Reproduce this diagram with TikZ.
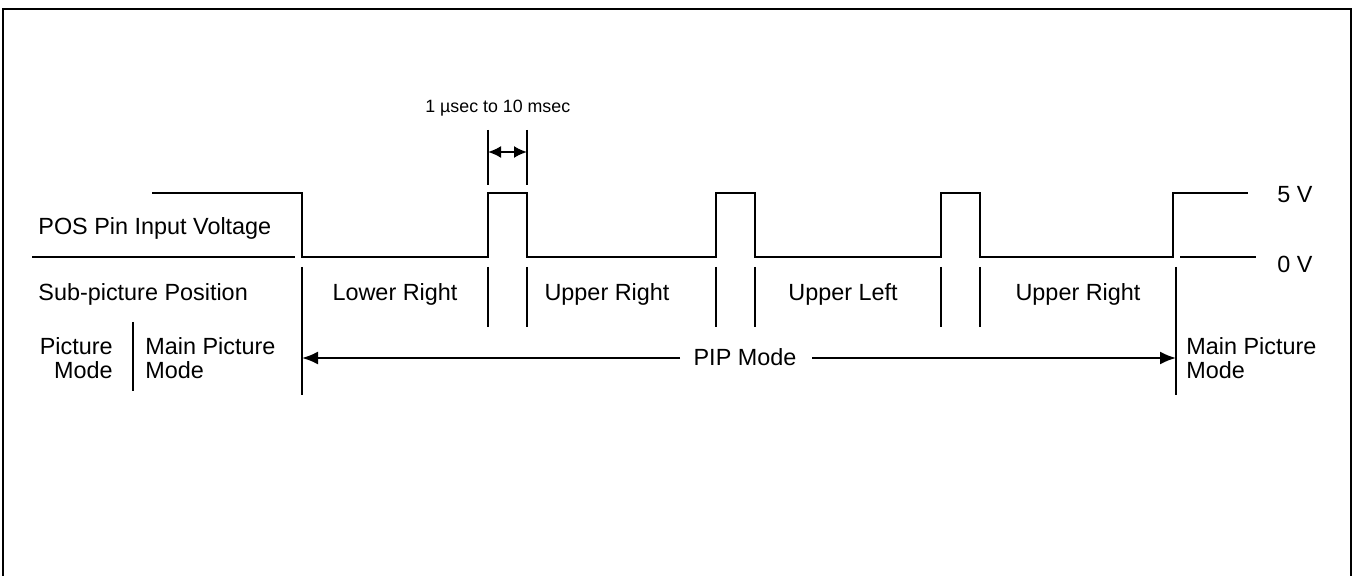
\documentclass[tikz,border=0pt]{standalone}
\usepackage{fontspec}
\setmainfont{Liberation Sans}
\usetikzlibrary{arrows.meta}
\begin{document}
\begin{tikzpicture}[x=0.5pt,y=-0.5pt,
  wire/.style={line width=1pt},
  frameline/.style={line width=1.3pt},
  lbl/.style={inner sep=0pt,font=\fontsize{11.7}{14}\selectfont},
  small/.style={inner sep=0pt,font=\fontsize{8.9}{11}\selectfont},
  tip/.style={-{Latex[length=8pt,width=6.5pt]}},
  line cap=butt]
\useasboundingbox (0,0) rectangle (1352,576);
% frame
\draw[frameline] (3,576) -- (3,9) -- (1351,9) -- (1351,576);
% signal
\draw[wire] (152,193) -- (302,193) -- (302,257) -- (488,257) -- (488,193) -- (527,193) -- (527,257)
  -- (716,257) -- (716,193) -- (755,193) -- (755,257)
  -- (941,257) -- (941,193) -- (980,193) -- (980,257)
  -- (1173,257) -- (1173,193) -- (1248,193);
\draw[wire] (32,257) -- (295,257);
\draw[wire] (1180,257) -- (1256,257);
% markers below 0 V
\coordinate (L0t) at (302,267); \coordinate (L0b) at (302,395);
\coordinate (R0t) at (1176,267); \coordinate (R0b) at (1176,395);
\draw[wire] (L0t) -- (L0b);
\draw[wire] (R0t) -- (R0b);
\foreach \xx in {488,527,716,755,941,980}
  \draw[wire] (\xx,267) -- (\xx,327);
% dimension
\coordinate (d1) at (488,152); \coordinate (d2) at (527,152);
\draw[wire] (488,130) -- (488,185);
\draw[wire] (527,130) -- (527,185);
\draw[wire,{Latex[length=6.5pt,width=6pt]}-{Latex[length=6.5pt,width=6pt]}] (d1) -- (d2);
\node[small,anchor=base west] (dim) at (425,113) {1 µsec to 10 msec};
% left labels
\node[lbl,anchor=base west] (pos) at (38,235) {POS Pin Input Voltage};
\node[lbl,anchor=base west] (sub) at (38,301) {Sub-picture Position};
\draw[wire] (133,322) -- (133,391);
\node[lbl,anchor=base east] (pm1) at (113,355) {Picture};
\node[lbl,anchor=base east] (pm2) at (113,379) {Mode};
\node[lbl,anchor=base west] (mp1) at (145,355) {Main Picture};
\node[lbl,anchor=base west] (mp2) at (145,379) {Mode};
% region labels
\node[lbl,anchor=base] (lr) at (395,301) {Lower Right};
\node[lbl,anchor=base] (ur1) at (607,301) {Upper Right};
\node[lbl,anchor=base] (ul) at (843,301) {Upper Left};
\node[lbl,anchor=base] (ur2) at (1078,301) {Upper Right};
% PIP mode
\node[lbl,anchor=base] (pip) at (745,366) {PIP Mode};
\coordinate (pa) at (302,358); \coordinate (pb) at (1176,358);
\draw[wire,tip] (680,358) -- (pa);
\draw[wire,tip] (812,358) -- (pb);
\node[lbl,anchor=base west] (mr1) at (1186,355) {Main Picture};
\node[lbl,anchor=base west] (mr2) at (1186,379) {Mode};
% voltage labels
\node[lbl,anchor=base west] (v5) at (1277,203) {5 V};
\node[lbl,anchor=base west] (v0) at (1277,273) {0 V};
\end{tikzpicture}
\end{document}
